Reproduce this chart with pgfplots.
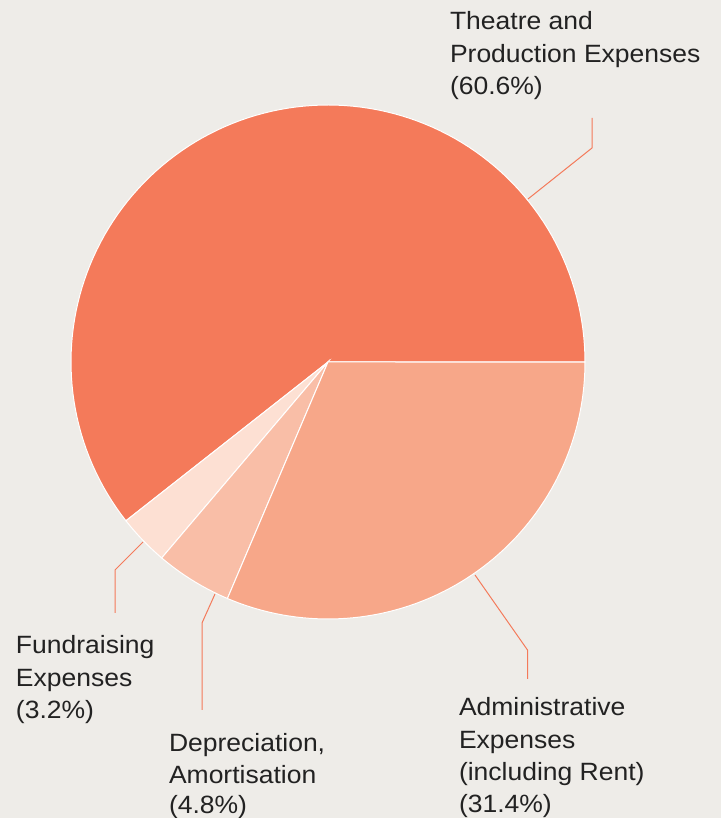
\documentclass[border=0pt]{standalone}
\usepackage{pgfplots}
\pgfplotsset{compat=1.18}
\usepackage{fontspec}
\setmainfont[FakeStretch=1.06]{Liberation Sans}
\definecolor{bg}{HTML}{EEECE8}
\definecolor{cTheatre}{HTML}{F47A5A}
\definecolor{cAdmin}{HTML}{F7A789}
\definecolor{cDep}{HTML}{F9BEA7}
\definecolor{cFund}{HTML}{FDE0D3}
\definecolor{txt}{HTML}{222222}
\tikzset{lbl/.style={anchor=base west, font=\fontsize{25}{32}\selectfont, text=txt, inner sep=0pt, outer sep=0pt}}
% shares in percent
\def\pTheatre{60.6}
\def\pFund{3.2}
\def\pDep{4.8}
\def\pAdmin{31.4}
\begin{document}
\begin{tikzpicture}
\pgfmathsetmacro{\aA}{0}
\pgfmathsetmacro{\aB}{\aA+3.6*\pTheatre}
\pgfmathsetmacro{\aC}{\aB+3.6*\pFund}
\pgfmathsetmacro{\aD}{\aC+3.6*\pDep}
\pgfmathsetmacro{\aE}{\aD+3.6*\pAdmin}
\begin{axis}[
  width=721pt, height=818pt, scale only axis,
  xmin=0, xmax=721, ymin=-818, ymax=0,
  hide axis, clip=false,
]
\fill[bg] (axis cs:0,-818) rectangle (axis cs:721,0);
\addplot[fill=cTheatre, draw=white, line width=1pt, domain=\aA:\aB, samples=120, variable=\t] ({328+257*cos(t)},{-362+257*sin(t)}) -- (axis cs:328,-362) -- cycle;
\addplot[fill=cFund, draw=white, line width=1pt, domain=\aB:\aC, samples=20, variable=\t] ({328+257*cos(t)},{-362+257*sin(t)}) -- (axis cs:328,-362) -- cycle;
\addplot[fill=cDep, draw=white, line width=1pt, domain=\aC:\aD, samples=20, variable=\t] ({328+257*cos(t)},{-362+257*sin(t)}) -- (axis cs:328,-362) -- cycle;
\addplot[fill=cAdmin, draw=white, line width=1pt, domain=\aD:\aE, samples=80, variable=\t] ({328+257*cos(t)},{-362+257*sin(t)}) -- (axis cs:328,-362) -- cycle;
% leader lines
\draw[cTheatre, line width=1pt] (axis cs:528,-199) -- (axis cs:592,-148) -- (axis cs:592,-118);
\draw[cTheatre, line width=1pt] (axis cs:475,-575) -- (axis cs:527.5,-650) -- (axis cs:527.5,-679);
\draw[cTheatre, line width=1pt] (axis cs:143,-542) -- (axis cs:115,-570) -- (axis cs:115,-613);
\draw[cTheatre, line width=1pt] (axis cs:215,-594) -- (axis cs:202,-623) -- (axis cs:202,-710);
% labels
\node[lbl] at (axis cs:450,-30) {Theatre and};
\node[lbl] at (axis cs:450,-62.5) {Production Expenses};
\node[lbl] at (axis cs:450,-95) {(60.6\%)};
\node[lbl] at (axis cs:459,-716) {Administrative};
\node[lbl] at (axis cs:459,-748.5) {Expenses};
\node[lbl] at (axis cs:459,-781) {(including Rent)};
\node[lbl] at (axis cs:459,-812.5) {(31.4\%)};
\node[lbl] at (axis cs:16,-654) {Fundraising};
\node[lbl] at (axis cs:16,-686.5) {Expenses};
\node[lbl] at (axis cs:16,-719) {(3.2\%)};
\node[lbl] at (axis cs:169,-751.5) {Depreciation,};
\node[lbl] at (axis cs:169,-783.5) {Amortisation};
\node[lbl] at (axis cs:169,-813) {(4.8\%)};
\end{axis}
\pgfresetboundingbox
\path[use as bounding box] (0,0) rectangle (721pt,818pt);
\end{tikzpicture}
\end{document}
